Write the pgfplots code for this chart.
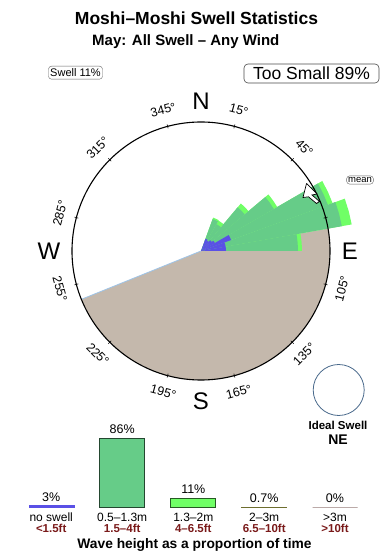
\documentclass[border=0pt]{standalone}
\usepackage{pgfplots}
\pgfplotsset{compat=1.18}
\usepackage{fontspec}
\setmainfont{Liberation Sans}

\definecolor{swellblue}{HTML}{5A50E6}
\definecolor{midgreen}{HTML}{66CC88}
\definecolor{brightgreen}{HTML}{70FF66}
\definecolor{landtan}{HTML}{C4B8AC}
\definecolor{edgeblue}{HTML}{9EC4E8}
\definecolor{darkred}{HTML}{7A1A1A}
\definecolor{olivebar}{HTML}{8A8A3A}
\definecolor{greyband}{HTML}{BBAAA8}
\definecolor{idealblue}{HTML}{4A6A8C}

\newcommand{\fs}[1]{\fontsize{#1}{#1}\selectfont}
% one rose sector: colour, start angle, mid angle, end angle (math degrees), radius
\newcommand{\sector}[5]{\addplot[fill=#1, draw=none, data cs=polar] coordinates {(0,0) (#2,#5) (#3,#5) (#4,#5)};}

\begin{document}
\begin{tikzpicture}
\fill[white] (0,0) rectangle (390pt,560pt);

% ---------------- swell rose ----------------
\begin{axis}[name=rose, at={(0pt,0pt)}, anchor=south west, scale only axis,
  width=390pt, height=560pt, xmin=-201, xmax=189, ymin=-309, ymax=251,
  hide axis, clip=false]

% titles
\node[anchor=base, font=\bfseries\fs{17.5}] at (axis cs:-4.5,226) {Moshi–Moshi Swell Statistics};
\node[anchor=base, font=\bfseries\fs{15}] at (axis cs:-15.2,205) {May: All Swell – Any Wind};
\node[draw=black!60, rounded corners=3pt, minimum width=54pt, minimum height=13pt, inner sep=0pt, font=\fs{11}] at (axis cs:-125.5,178.3) {Swell 11\%};
\node[draw=black!70, line width=0.6pt, rounded corners=4pt, minimum width=135pt, minimum height=19pt, inner sep=0pt, font=\fs{17.5}] at (axis cs:110.5,177.5) {Too Small 89\%};

% bearing labels
\path (axis cs:0,0) ++(75:146pt)   node[rotate=-15, font=\fs{12.5}] {15°};
\path (axis cs:0,0) ++(45:146pt)   node[rotate=-45, font=\fs{12.5}] {45°};
\path (axis cs:0,0) ++(-15:146pt)  node[rotate=75,  font=\fs{12.5}] {105°};
\path (axis cs:0,0) ++(-45:146pt)  node[rotate=45,  font=\fs{12.5}] {135°};
\path (axis cs:0,0) ++(-75:146pt)  node[rotate=15,  font=\fs{12.5}] {165°};
\path (axis cs:0,0) ++(-105:146pt) node[rotate=-15, font=\fs{12.5}] {195°};
\path (axis cs:0,0) ++(-135:146pt) node[rotate=-45, font=\fs{12.5}] {225°};
\path (axis cs:0,0) ++(-165:146pt) node[rotate=-75, font=\fs{12.5}] {255°};
\path (axis cs:0,0) ++(165:146pt)  node[rotate=75,  font=\fs{12.5}] {285°};
\path (axis cs:0,0) ++(135:146pt)  node[rotate=45,  font=\fs{12.5}] {315°};
\path (axis cs:0,0) ++(105:146pt)  node[rotate=15,  font=\fs{12.5}] {345°};

% sheltered sector (land)
\addplot[fill=landtan, draw=none, data cs=polar] coordinates {
 (0,0) (10,129) (5,129) (0,129) (-5,129) (-10,129) (-15,129) (-20,129) (-25,129)
 (-30,129) (-35,129) (-40,129) (-45,129) (-50,129) (-55,129) (-60,129) (-65,129)
 (-70,129) (-75,129) (-80,129) (-85,129) (-90,129) (-95,129) (-100,129) (-105,129)
 (-110,129) (-115,129) (-120,129) (-125,129) (-130,129) (-135,129) (-140,129)
 (-145,129) (-150,129) (-155,129) (-158,129)};
\addplot[edgeblue, line width=0.8pt, data cs=polar] coordinates {(0,0) (-158,129)};

% 1.3-2m
\sector{brightgreen}{70}{65}{60}{35.5}
\sector{brightgreen}{60}{55}{50}{35}
\sector{brightgreen}{50}{45}{40}{62}
\sector{brightgreen}{40}{35}{30}{88}
\sector{brightgreen}{30}{25}{20}{140}
\sector{brightgreen}{20}{15}{10}{153}
\sector{brightgreen}{10}{5}{0}{101}
% 0.5-1.3m
\sector{midgreen}{70}{65}{60}{34}
\sector{midgreen}{60}{55}{50}{31}
\sector{midgreen}{50}{45}{40}{57}
\sector{midgreen}{40}{35}{30}{84}
\sector{midgreen}{30}{25}{20}{135}
\sector{midgreen}{20}{15}{10}{143}
\sector{midgreen}{10}{5}{0}{97}
% no swell
\sector{swellblue}{70}{65}{60}{13}
\sector{swellblue}{60}{55}{50}{12}
\sector{swellblue}{50}{45}{40}{14}
\sector{swellblue}{40}{35}{30}{16}
\sector{swellblue}{30}{25}{20}{32}
\sector{swellblue}{20}{15}{10}{25}
\sector{swellblue}{10}{5}{0}{25}

% compass ring
\draw[black, line width=1.1pt] (axis cs:0,0) circle[radius=129pt];
\pgfplotsinvokeforeach{75,45,15,-15,-45,-75,-105,-135,-165,165,135,105}{
  \draw[line width=0.6pt] (axis cs:0,0) ++(#1:127pt) -- ++(#1:4pt);
}
\node[font=\fs{24}] at (axis cs:0,150) {N};
\node[font=\fs{24}] at (axis cs:149,0) {E};
\node[font=\fs{24}] at (axis cs:0,-150) {S};
\node[font=\fs{24}] at (axis cs:-152,0) {W};

% mean direction
\addplot[fill=white, draw=black, line width=0.7pt] coordinates {
 (105.5,67.5) (116,57) (111,56) (118.5,49.5) (115.5,47.5) (107.5,54.2) (102,53.5) (105.5,67.5)};
\node[draw=black!60, rounded corners=3pt, inner sep=1.5pt, font=\fs{9.5}] at (axis cs:159,71) {mean};

% ideal swell
\draw[idealblue, line width=0.8pt] (axis cs:137.7,-139) circle[radius=25.5pt];
\node[anchor=base, font=\bfseries\fs{11.5}] at (axis cs:137,-178.3) {Ideal Swell};
\node[anchor=base, font=\bfseries\fs{14}] at (axis cs:137,-194) {NE};
\end{axis}

% ---------------- wave height distribution ----------------
\begin{axis}[name=bars, at={(0pt,52.3pt)}, anchor=south west, scale only axis,
  width=390pt, height=80pt, xmin=0, xmax=390, ymin=0, ymax=100,
  hide axis, clip=false]
\addplot[ybar, bar width=45pt, bar shift=0pt, fill=swellblue, draw=swellblue, line width=0.4pt] coordinates {(51.2,3)};
\addplot[ybar, bar width=45pt, bar shift=0pt, fill=midgreen, draw=black!65!midgreen, line width=0.8pt] coordinates {(122.2,86)};
\addplot[ybar, bar width=45pt, bar shift=0pt, fill=brightgreen, draw=black!65!brightgreen, line width=0.8pt] coordinates {(193.3,11)};
\addplot[ybar, bar width=45pt, bar shift=0pt, fill=olivebar, draw=olivebar!80!black, line width=0.8pt] coordinates {(264.2,0.7)};
\addplot[ybar, bar width=45pt, bar shift=0pt, fill=greyband, draw=greyband, line width=1.4pt] coordinates {(335,0)};

\node[anchor=base, yshift=4pt, font=\fs{12.5}] at (axis cs:51.2,3) {3\%};
\node[anchor=base, yshift=5pt, font=\fs{12.5}] at (axis cs:122.2,86) {86\%};
\node[anchor=base, yshift=5pt, font=\fs{12.5}] at (axis cs:193.3,11) {11\%};
\node[anchor=base, yshift=5pt, font=\fs{12.5}] at (axis cs:264.2,0.7) {0.7\%};
\node[anchor=base, yshift=5pt, font=\fs{12.5}] at (axis cs:335,0) {0\%};

\node[anchor=base, yshift=-14pt, font=\fs{12}] at (axis cs:51.2,0) {no swell};
\node[anchor=base, yshift=-14pt, font=\fs{12}] at (axis cs:122.2,0) {0.5–1.3m};
\node[anchor=base, yshift=-14pt, font=\fs{12}] at (axis cs:193.3,0) {1.3–2m};
\node[anchor=base, yshift=-14pt, font=\fs{12}] at (axis cs:264.2,0) {2–3m};
\node[anchor=base, yshift=-14pt, font=\fs{12}] at (axis cs:335,0) {>3m};
\node[anchor=base, yshift=-24.6pt, font=\bfseries\fs{11.5}, text=darkred] at (axis cs:51.2,0) {<1.5ft};
\node[anchor=base, yshift=-24.6pt, font=\bfseries\fs{11.5}, text=darkred] at (axis cs:122.2,0) {1.5–4ft};
\node[anchor=base, yshift=-24.6pt, font=\bfseries\fs{11.5}, text=darkred] at (axis cs:193.3,0) {4–6.5ft};
\node[anchor=base, yshift=-24.6pt, font=\bfseries\fs{11.5}, text=darkred] at (axis cs:264.2,0) {6.5–10ft};
\node[anchor=base, yshift=-24.6pt, font=\bfseries\fs{11.5}, text=darkred] at (axis cs:335,0) {>10ft};
\node[anchor=base, yshift=-41.3pt, font=\bfseries\fs{13.8}] at (axis cs:194.5,0) {Wave height as a proportion of time};
\end{axis}

\pgfresetboundingbox
\path (0,0) rectangle (390pt,560pt);
\end{tikzpicture}
\end{document}
